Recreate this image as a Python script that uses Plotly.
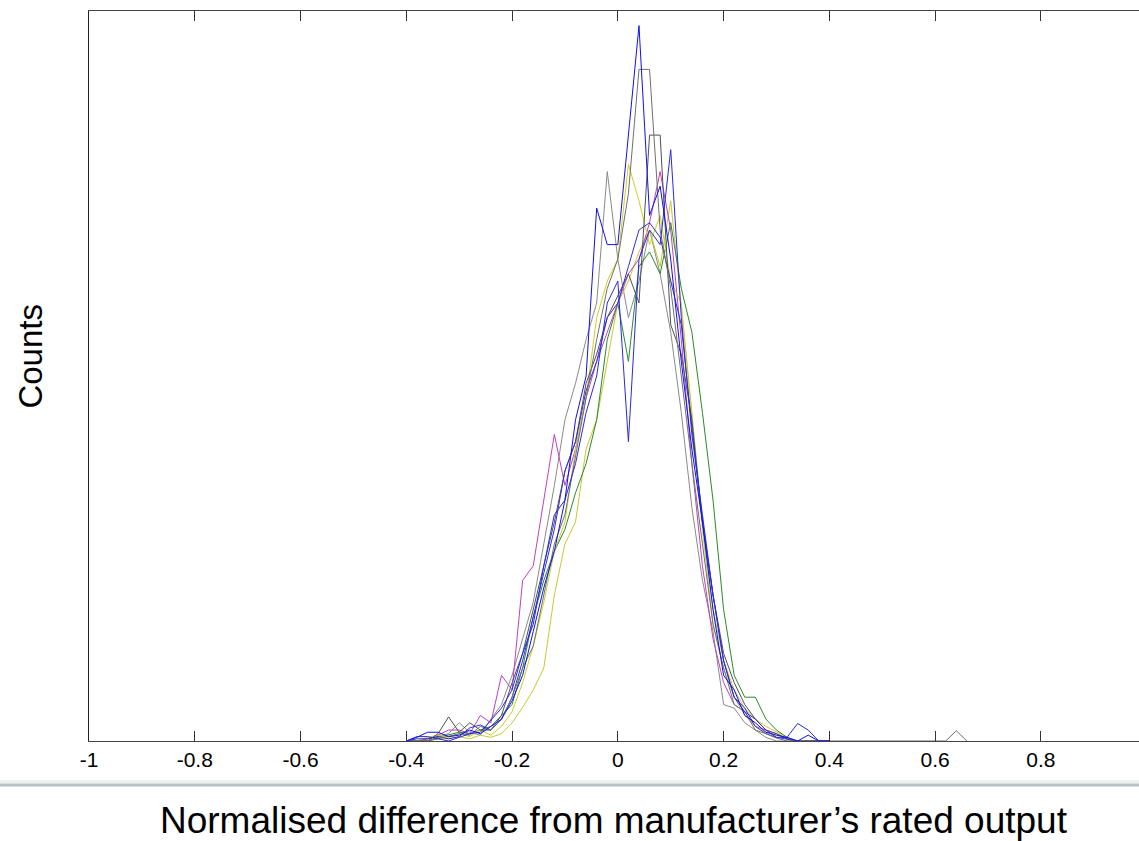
import plotly.graph_objects as go

# Bin centres (normalised difference), -0.40 .. 0.40 in 0.02 steps
x_bins = [round(-0.40 + 0.02 * i, 2) for i in range(41)]

# Counts per bin for each series (arbitrary units, axis top = 100)
blue_a = [0, 0.5, 1.2, 1.2, 0.6, 0.8, 1.5, 1.0, 2.0, 3.0,
          5.5, 9, 15, 21, 26, 33, 44, 50, 73, 68,
          68, 83, 98, 72, 76, 66, 52, 40, 30, 18,
          9, 7, 3.5, 2.5, 1.2, 0.8, 0.5, 0, 0.8, 0, 0]
grey_a = [0, 0, 0, 0.3, 0.6, 1.0, 0.8, 2.0, 1.5, 3.0,
          6, 10, 13, 20, 27, 31, 39, 47, 55, 62,
          66, 75, 92, 92, 70, 62, 50, 38, 27, 16,
          10, 5, 4, 1.5, 1.0, 0.4, 0, 0, 0, 0, 0]
grey_a_tail_x = [0.60, 0.62, 0.64, 0.66]
grey_a_tail_y = [0, 0, 1.4, 0]
dgrey_b = [0, 0, 0, 1.0, 3.3, 1.2, 2.5, 1.5, 1.5, 3.5,
           8, 12, 18, 24, 30, 37, 41, 49, 53, 58,
           61, 64, 60, 83, 83, 57, 53, 44, 30, 20,
           12, 8, 5, 3.0, 1.5, 1.0, 0.3, 0, 0, 0, 0]
blue_b = [0, 0.6, 0.6, 0.3, 0, 0.5, 1.0, 1.2, 2.8, 4.5,
          7, 12, 16, 24, 31, 33, 38, 45, 50, 60,
          63, 41, 66, 70, 68, 81, 58, 42, 31, 20,
          11, 6, 4, 3, 1.5, 0.5, 0.5, 2.4, 1.5, 0, 0]
yellow_a = [0, 0, 0.5, 0.8, 0.5, 1.0, 0.6, 1.5, 0.8, 2.0,
            4, 8, 13, 19, 26, 30, 40, 47, 58, 63,
            66, 79, 74, 68, 72, 63, 60, 44, 29, 16,
            10, 6, 3.5, 2.0, 1.2, 0.8, 0.5, 0, 0, 0, 0]
magenta = [0, 0, 0.3, 0.8, 1.5, 1.5, 1.0, 3.5, 2.5, 9,
           7, 22, 24, 33, 42, 35, 40, 47, 52, 56,
           60, 64, 66, 71, 78, 70, 55, 38, 24, 14,
           8, 5, 4, 2.0, 1.5, 1.0, 0.3, 0, 0, 0, 0]
green = [0, 0, 0, 0.5, 0.8, 1.2, 1.0, 1.5, 2.0, 3.5,
         5, 10, 17, 22, 26, 29, 34, 38, 44, 55,
         60, 52, 65, 67, 64, 71, 62, 56, 45, 33,
         18, 9, 6, 6, 3, 1.5, 0.5, 0, 0, 0, 0]
blue_c = [0, 0.3, 0.3, 0.6, 0.3, 0.6, 1.8, 2.2, 1.5, 3.0,
          6, 11, 17, 23, 29, 37, 41, 48, 52, 58,
          60, 65, 70, 71, 69, 63, 57, 43, 30, 20,
          11, 6, 4.5, 2.0, 1.0, 0.5, 0.2, 0, 0, 0, 0]
grey_c = [0, 0, 0.3, 0.6, 1.0, 2.5, 1.2, 0.8, 3.0, 5.0,
          9, 14, 19, 27, 35, 44, 49, 55, 60, 78,
          66, 58, 63, 70, 64, 56, 45, 32, 22, 15,
          5, 4.5, 2.5, 1.5, 0.5, 0, 0, 0, 0, 0, 0]
olive = [0, 0, 0, 0.3, 0.3, 0.6, 0.3, 0.8, 0.5, 1.0,
         2.5, 4.6, 7, 10, 20, 27, 30, 40, 44, 52,
         60, 63, 67, 70, 65, 74, 60, 45, 30, 18,
         11, 7, 4.5, 3.0, 2.0, 1.2, 0.5, 0, 0, 0, 0]

x_ticks = [-1, -0.8, -0.6, -0.4, -0.2, 0, 0.2, 0.4, 0.6, 0.8]
x_tick_text = ["-1", "-0.8", "-0.6", "-0.4", "-0.2", "0", "0.2", "0.4", "0.6", "0.8"]

series = [
    ("grey_c", x_bins, grey_c, "#8a8a8a"),
    ("olive", x_bins, olive, "#c8c830"),
    ("green", x_bins, green, "#2a8a2a"),
    ("magenta", x_bins, magenta, "#c040c0"),
    ("yellow_a", x_bins, yellow_a, "#d0d020"),
    ("dgrey_b", x_bins, dgrey_b, "#505050"),
    ("blue_c", x_bins, blue_c, "#3030d0"),
    ("grey_a", x_bins + grey_a_tail_x, grey_a + grey_a_tail_y, "#707070"),
    ("blue_b", x_bins, blue_b, "#2828e8"),
    ("blue_a", x_bins, blue_a, "#1010f0"),
]

fig = go.Figure()
for name, xs, ys, col in series:
    fig.add_trace(go.Scatter(x=xs, y=ys, mode="lines", name=name,
                             line=dict(color=col, width=1), showlegend=False))

font_family = "Liberation Sans, Arial, Helvetica, sans-serif"

fig.update_layout(
    width=1139, height=841,
    margin=dict(l=89, r=0, t=11, b=100),
    paper_bgcolor="white", plot_bgcolor="white",
    font=dict(family=font_family, color="black"),
    xaxis=dict(
        range=[-1, 0.9855], tickvals=x_ticks, ticktext=x_tick_text,
        ticks="inside", ticklen=10, tickcolor="#333", tickwidth=1,
        showline=True, linecolor="#444", linewidth=1, mirror="ticks",
        showgrid=False, zeroline=False,
        tickfont=dict(size=21, color="black", family=font_family),
    ),
    yaxis=dict(
        range=[0, 100], showticklabels=False, ticks="",
        showline=True, linecolor="#222", linewidth=1,
        showgrid=False, zeroline=False,
    ),
    annotations=[
        dict(text="Normalised difference from manufacturer\u2019s rated output",
             xref="paper", yref="paper", x=0.5, y=-0.109,
             xanchor="center", yanchor="middle", showarrow=False, borderpad=0,
             font=dict(size=37, color="black", family=font_family)),
        dict(text="Counts", xref="paper", yref="paper", x=-0.0559, y=0.527,
             xanchor="center", yanchor="middle", textangle=-90, showarrow=False,
             font=dict(size=33, color="black", family=font_family)),
    ],
    shapes=[
        dict(type="rect", xref="paper", yref="paper", x0=-0.1, x1=1.0,
             y0=-0.0535, y1=-0.0575, fillcolor="#eef0f0", line=dict(width=0), layer="below"),
        dict(type="line", xref="paper", yref="paper", x0=-0.1, x1=1.0,
             y0=-0.0603, y1=-0.0603, line=dict(color="#b5c1c4", width=3)),
    ],
)

fig.write_html(
    "out.html",
    config={"displayModeBar": False},
    post_script="document.body.style.margin='0';document.body.style.overflow='hidden';",
)
